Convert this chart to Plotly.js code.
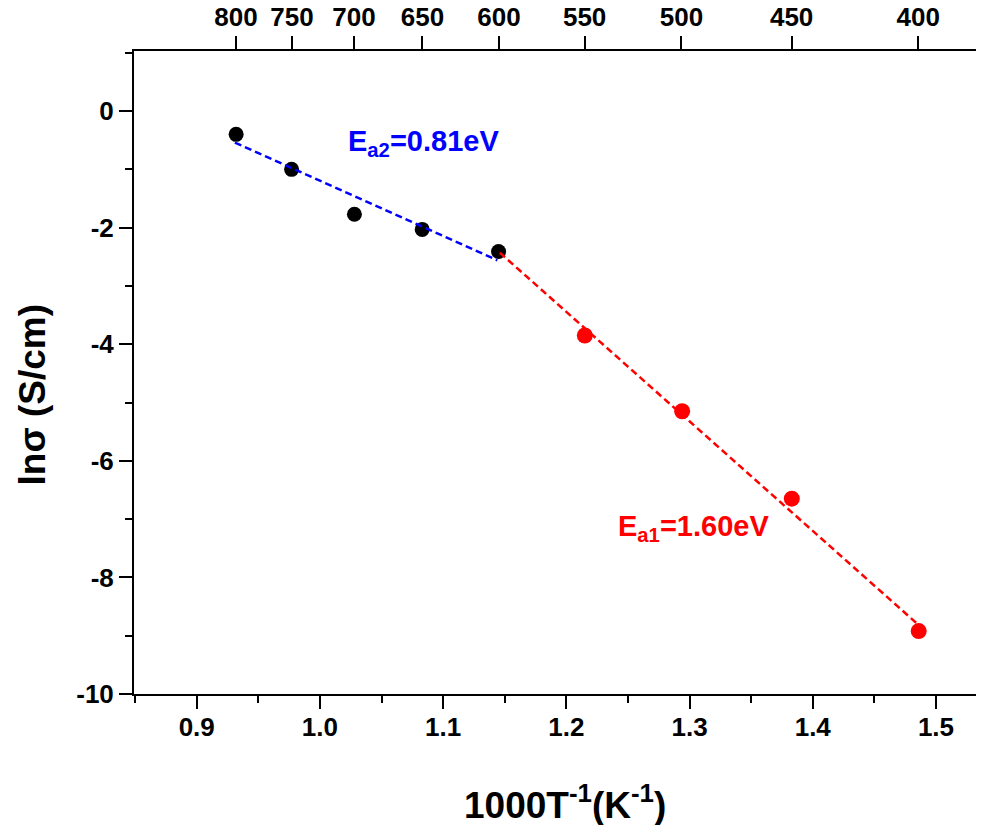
<!DOCTYPE html>
<html>
<head>
<meta charset="utf-8">
<script src="https://cdn.plot.ly/plotly-3.0.1.min.js"></script>
<style>html,body{margin:0;padding:0;background:#fff;}#chart{width:986px;height:825px;}</style>
</head>
<body>
<div id="chart"></div>
<script>
// Data
const lowTX = [0.932, 0.977, 1.028, 1.083, 1.145];      // 800..600 °C
const lowTY = [-0.40, -1.00, -1.77, -2.03, -2.41];
const highTX = [1.215, 1.294, 1.383, 1.486];           // 550..400 °C
const highTY = [-3.85, -5.15, -6.65, -8.92];
const fit2X = [0.931, 1.144];
const fit2Y = [-0.54, -2.56];
const fit1X = [1.146, 1.484];
const fit1Y = [-2.43, -8.78];
const topTempsC = [800, 750, 700, 650, 600, 550, 500, 450, 400];
const xTicks = [0.9, 1.0, 1.1, 1.2, 1.3, 1.4, 1.5];
const yTicks = [0, -2, -4, -6, -8, -10];

const FONT = 'Liberation Sans, Arial, sans-serif';
const xr = [0.8491, 1.5325];

const traces = [
  {x: highTX, y: highTY, mode: 'markers', type: 'scatter',
   marker: {color: '#ff0000', size: 16}, showlegend: false},
  {x: lowTX, y: lowTY, mode: 'markers', type: 'scatter',
   marker: {color: '#000000', size: 15}, showlegend: false},
  {x: fit2X, y: fit2Y, mode: 'lines', type: 'scatter',
   line: {color: '#0000ff', width: 2.5, dash: '7px,4px'}, showlegend: false},
  {x: fit1X, y: fit1Y, mode: 'lines', type: 'scatter',
   line: {color: '#ff0000', width: 2.5, dash: '7px,4px'}, showlegend: false},
  // invisible trace to activate the top axis
  {x: xr, y: [0, 0], xaxis: 'x2', mode: 'markers', marker: {opacity: 0}, hoverinfo: 'skip', showlegend: false}
];

const layout = {
  width: 986, height: 825,
  margin: {l: 134, r: 10, t: 51, b: 131},
  paper_bgcolor: '#ffffff', plot_bgcolor: '#ffffff',
  font: {family: FONT, color: '#000', size: 24},
  showlegend: false,
  xaxis: {
    range: xr, tickvals: xTicks, ticktext: xTicks.map(v => v.toFixed(1)),
    showgrid: false, zeroline: false, showline: true, linecolor: '#000', linewidth: 2,
    ticks: 'outside', ticklen: 13, tickwidth: 2, tickcolor: '#000', tickangle: 0,
    ticklabelstandoff: -4,
    tickfont: {family: FONT, size: 26, weight: 'bold'},
    minor: {dtick: 0.05, tick0: 0.85, ticks: 'outside', ticklen: 7, tickwidth: 2, tickcolor: '#000'}
  },
  xaxis2: {
    overlaying: 'x', side: 'top', range: xr,
    tickvals: topTempsC.map(t => 1000 / (t + 273.15)), ticktext: topTempsC.map(String),
    showgrid: false, zeroline: false, showline: true, linecolor: '#000', linewidth: 2,
    ticks: 'outside', ticklen: 13, tickwidth: 2, tickcolor: '#000', tickangle: 0,
    tickfont: {family: FONT, size: 26, weight: 'bold'}
  },
  yaxis: {
    range: [-10, 1.03], tickvals: yTicks, ticktext: yTicks.map(String),
    showgrid: false, zeroline: false, showline: true, linecolor: '#000', linewidth: 2,
    ticks: 'outside', ticklen: 13, tickwidth: 2, tickcolor: '#000',
    tickfont: {family: FONT, size: 26, weight: 'bold'},
    minor: {dtick: 1, tick0: 0, ticks: 'outside', ticklen: 7, tickwidth: 2, tickcolor: '#000'}
  },
  annotations: [
    {x: 1.021, y: -0.54, xref: 'x', yref: 'y', xanchor: 'left', yanchor: 'middle', showarrow: false,
     text: 'E<sub>a2</sub>=0.81eV', font: {family: FONT, size: 29, color: '#0000ff', weight: 'bold'}},
    {x: 1.240, y: -7.15, xref: 'x', yref: 'y', xanchor: 'left', yanchor: 'middle', showarrow: false,
     text: 'E<sub>a1</sub>=1.60eV', font: {family: FONT, size: 29, color: '#ff0000', weight: 'bold'}},
    // axis titles
    {x: 0.512, y: -0.168, xref: 'paper', yref: 'paper', xanchor: 'center', yanchor: 'middle', showarrow: false,
     text: '1000T<sup>-1</sup>(K<sup>-1</sup>)', font: {family: FONT, size: 37, weight: 'bold', color: '#000'}},
    {x: -0.121, y: 0.466, xref: 'paper', yref: 'paper', xanchor: 'center', yanchor: 'middle', showarrow: false,
     textangle: -90, text: 'ln\u03c3 (S/cm)', font: {family: FONT, size: 37, weight: 'bold', color: '#000'}}
  ]
};

Plotly.newPlot('chart', traces, layout, {displayModeBar: false, staticPlot: true});
</script>
</body>
</html>
